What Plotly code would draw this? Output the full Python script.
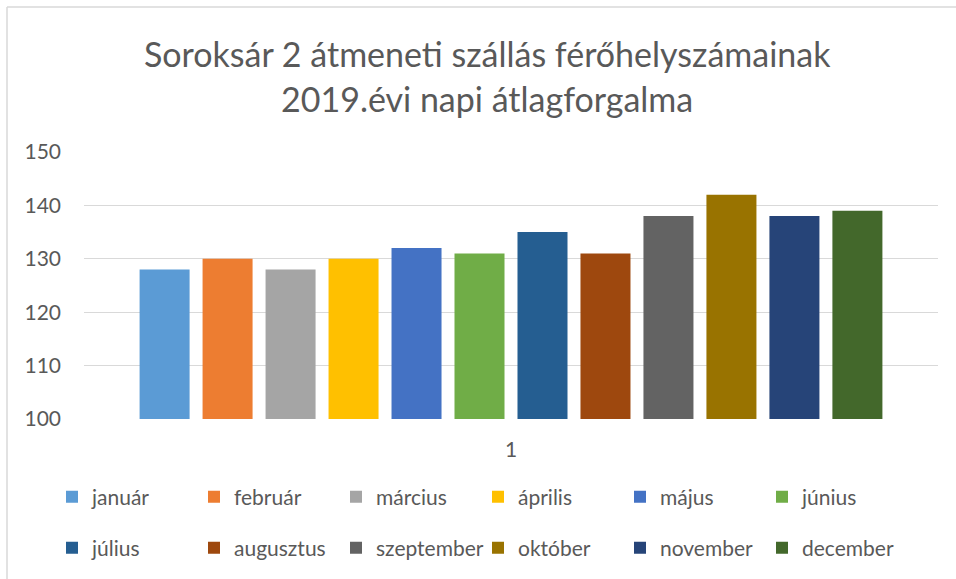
import plotly.graph_objects as go

category = ["1"]
months = ["január", "február", "március", "április", "május", "június",
          "július", "augusztus", "szeptember", "október", "november", "december"]
values = [128, 130, 128, 130, 132, 131, 135, 131, 138, 142, 138, 139]
colors = ["#5B9BD5", "#ED7D31", "#A5A5A5", "#FFC000", "#4472C4", "#70AD47",
          "#255E91", "#9E480E", "#636363", "#997300", "#264478", "#43682B"]
title_lines = ["Soroksár 2 átmeneti szállás férőhelyszámainak",
               "2019.évi napi átlagforgalma"]
y_ticks = [100, 110, 120, 130, 140, 150]

FONT = "Lato"
TXT = "#595959"
GRID = "#D9D9D9"

W, H = 956, 579
L, R, T, B = 84, 18, 152, 160
PW, PH = W - L - R, H - T - B

def px_x(px):
    return (px - L) / PW

def px_y(py):
    return (H - B - py) / PH

fig = go.Figure()
for i, (m, v, c) in enumerate(zip(months, values, colors)):
    fig.add_trace(go.Bar(
        x=category, y=[v], name=m, marker=dict(color=c, line=dict(width=0)),
        legend="legend" if i < 6 else "legend2",
    ))

legend_common = dict(
    orientation="h", xanchor="left", yanchor="middle",
    font=dict(family=FONT, size=21, color=TXT),
    entrywidthmode="pixels", entrywidth=97,
    bgcolor="rgba(0,0,0,0)", borderwidth=0, traceorder="normal",
)

fig.update_layout(
    width=W, height=H,
    margin=dict(l=L, r=R, t=T, b=B, autoexpand=False),
    paper_bgcolor="white", plot_bgcolor="white",
    barmode="group", bargap=0.115, bargroupgap=0.206,
    font=dict(family=FONT, color=TXT),
    legend=dict(x=px_x(52), y=px_y(497), **legend_common),
    legend2=dict(x=px_x(52), y=px_y(548), **legend_common),
    xaxis=dict(
        showgrid=False, showline=False, zeroline=False,
        tickfont=dict(family=FONT, size=21, color=TXT),
        ticks="", ticklabelstandoff=16,
    ),
    yaxis=dict(
        range=[100, 150], tickvals=y_ticks, showgrid=True, gridcolor=GRID, gridwidth=1.2,
        zeroline=False, showline=False,
        tickfont=dict(family=FONT, size=21, color=TXT),
        ticks="", ticklabelstandoff=22,
    ),
    annotations=[
        dict(text=title_lines[0], x=px_x(487), y=px_y(53), xref="paper", yref="paper",
             xanchor="center", yanchor="middle", showarrow=False,
             font=dict(family=FONT, size=34, color=TXT)),
        dict(text=title_lines[1], x=px_x(487), y=px_y(99), xref="paper", yref="paper",
             xanchor="center", yanchor="middle", showarrow=False,
             font=dict(family=FONT, size=34, color=TXT)),
    ],
    shapes=[
        dict(type="line", xref="paper", yref="paper", x0=px_x(7), x1=px_x(7),
             y0=px_y(7), y1=px_y(H + 5), line=dict(color=GRID, width=1.5)),
        dict(type="line", xref="paper", yref="paper", x0=px_x(7), x1=px_x(W + 5),
             y0=px_y(7), y1=px_y(7), line=dict(color=GRID, width=1.5)),
    ],
)

fig.write_html(
    "out.html",
    config={"displayModeBar": False},
    post_script="document.body.style.margin='0';document.body.style.overflow='hidden';",
)
